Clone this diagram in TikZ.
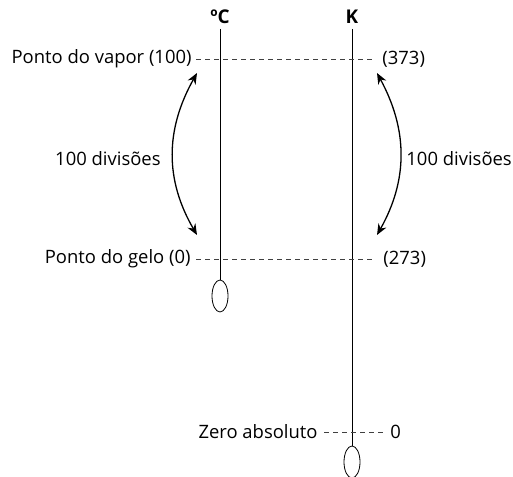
\documentclass[tikz,border=0pt]{standalone}
\usepackage{fontspec}
\setmainfont{Open Sans}
\usetikzlibrary{arrows.meta, positioning, shapes.geometric}

\tikzset{
  lbl/.style={font=\fontsize{18.5}{21}\selectfont, inner sep=0pt},
  scalehead/.style={font=\bfseries\fontsize{19}{21}\selectfont, inner sep=0pt},
  bulb/.style={draw, ellipse, minimum width=16bp, minimum height=32bp, inner sep=0pt, line width=0.8pt},
  ref/.style={dashed, dash pattern=on 5bp off 4bp, line width=0.7pt, black!75},
  divarrow/.style={{Stealth[length=11bp,width=9bp]}-{Stealth[length=11bp,width=9bp]}, line width=1.3pt}
}

\begin{document}
\begin{tikzpicture}[x=1bp, y=-1bp, line width=0.9pt]
  \useasboundingbox (0,0) rectangle (513,477);
  % the two scales
  \node[scalehead] (chead) at (220,17) {ºC};
  \node[scalehead] (khead) at (352,17) {K};
  \coordinate (ctop) at (220,29);
  \coordinate (ktop) at (352,29);
  \node[bulb] (cbulb) at (220,296) {};
  \node[bulb] (kbulb) at (352,462) {};
  \draw (ctop) -- (cbulb.north);
  \draw (ktop) -- (kbulb.north);
  % fixed points
  \node[lbl, anchor=east] (vapor) at (192,59) {Ponto do vapor (100)};
  \node[lbl, anchor=west] (kvapor) at (382,59) {(373)};
  \draw[ref] ([xshift=4bp]vapor.east) -- ([xshift=-6bp]kvapor.west);
  \node[lbl, anchor=east] (gelo) at (191,259) {Ponto do gelo (0)};
  \node[lbl, anchor=west] (kgelo) at (383,259) {(273)};
  \draw[ref] ([xshift=5bp]gelo.east) -- ([xshift=-7bp]kgelo.west);
  \node[lbl, anchor=east] (zero) at (318,432) {Zero absoluto};
  \node[lbl, anchor=west] (kzero) at (390,432) {0};
  \draw[ref] ([xshift=6bp]zero.east) -- ([xshift=-7bp]kzero.west);
  % the hundred divisions
  \coordinate (ca) at (197,73);
  \coordinate (cb) at (197,235);
  \coordinate (ka) at (377,73);
  \coordinate (kb) at (377,235);
  \draw[divarrow] (ca) .. controls (165,130) and (165,180) .. (cb);
  \draw[divarrow] (ka) .. controls (408,130) and (408,180) .. (kb);
  \node[lbl, anchor=east] (cdiv) at (161,159) {100 divisões};
  \node[lbl, anchor=west] (kdiv) at (406,159) {100 divisões};
\end{tikzpicture}
\end{document}
